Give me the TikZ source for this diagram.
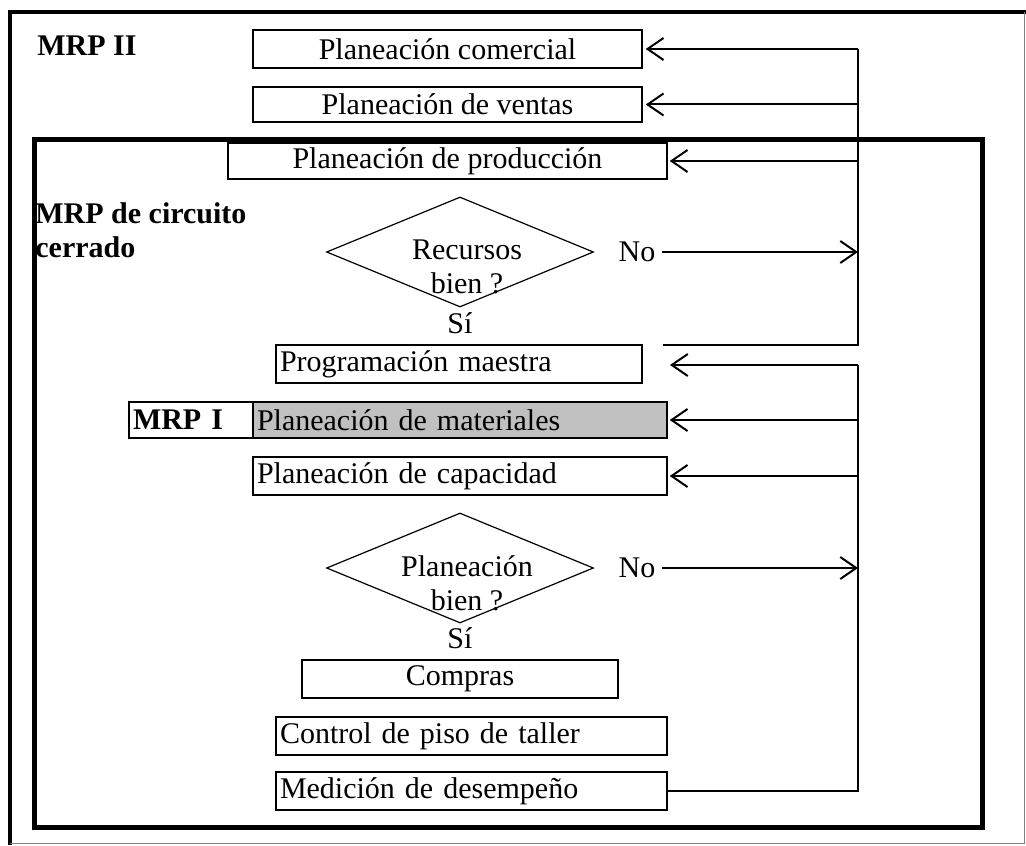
\documentclass[tikz,border=0pt]{standalone}
\usepackage{fontspec}
\setmainfont{Liberation Serif}
\usetikzlibrary{arrows.meta,shapes.geometric}
\definecolor{matgray}{HTML}{C0C0C0}
\definecolor{edgegray}{HTML}{808080}
\begin{document}
\begin{tikzpicture}[x=0.5pt,y=-0.5pt,
  every node/.style={font=\fontsize{15pt}{17pt}\selectfont},
  box/.style={draw,line width=0.75pt,inner sep=0pt,minimum height=19pt},
  lbox/.style={box,align=left,inner xsep=2pt,text width=#1},
  decision/.style={draw,shape=diamond,line width=0.6pt,inner sep=0pt,minimum width=133.5pt,minimum height=55pt},
  conn/.style={line width=1pt},
  arr/.style={conn,-{Straight Barb[length=8pt,width=11pt,line width=1pt]}},
  lbl/.style={font=\bfseries\fontsize{15pt}{17pt}\selectfont,inner sep=0pt}]
\useasboundingbox (0,0) rectangle (1026,845);
% outer frame
\draw[line width=2pt] (10,845) -- (10,12) -- (1026,12);
\draw[edgegray,line width=0.5pt] (10,843) -- (1024,843) -- (1024,12);
% inner frame
\draw[line width=2.5pt] (34,140) rectangle (982,827);
% labels
\node[lbl,anchor=west] (mrp2) at (37,46) {MRP II};
\node[lbl,anchor=west,align=left] (mrpcc) at (35,230) {MRP de circuito\\[0pt]cerrado};
% boxes
\node[box,minimum width=194.5pt] (com) at (447.5,49) {Planeación comercial};
\node[box,minimum width=194.5pt,minimum height=17.5pt] (ven) at (447.5,104.5) {Planeación de ventas};
\node[box,minimum width=219.5pt,minimum height=18pt] (prod) at (447.5,161) {Planeación de producción};
\node[decision] (d1) at (460,252) {};
\node[align=center,inner sep=0pt] (d1t) at (467,267) {Recursos\\bien ?};
\node[inner sep=0pt] (si1) at (460,323) {Sí};
\node (no1) at (637,252) {No};
\node[lbox=179pt] (mae) at (459,364) {Programación maestra};
\node[lbox=58pt,minimum height=18pt,font=\bfseries\fontsize{15pt}{17pt}\selectfont] (mrp1) at (191,420) {MRP I};
\node[lbox=203pt,minimum height=18pt,fill=matgray] (mat) at (460,420) {Planeación de materiales};
\node[lbox=203pt] (cap) at (460,476) {Planeación de capacidad};
\node[decision] (d2) at (460,568) {};
\node[align=center,inner sep=0pt] (d2t) at (467,583) {Planeación\\bien ?};
\node[inner sep=0pt] (si2) at (460,638) {Sí};
\node (no2) at (637,568) {No};
\node[box,minimum width=158pt] (comp) at (460,679) {Compras};
\node[lbox=191.5pt] (tal) at (471.5,736) {Control de piso de taller};
\node[lbox=191.5pt] (des) at (471.5,791) {Medición de desempeño};
% feedback coordinates
\coordinate (ta) at (858,49);
\coordinate (tb) at (858,345);
\coordinate (te) at (663,345);
\coordinate (ba) at (858,365);
\coordinate (be) at (670,365);
% upper loop
\draw[conn] (te) -- (tb) -- (ta);
\draw[arr,shorten >=1.5pt] (ta) -- (com.east);
\draw[arr,shorten >=1.5pt] (ta |- ven.east) -- (ven.east);
\draw[arr,shorten >=1pt] (ta |- prod.east) -- (prod.east);
\draw[arr] (no1.east) -- (no1.east -| ta);
% lower loop
\draw[conn] (des.east) -- (des.east -| ba) -- (ba);
\draw[arr] (ba) -- (be);
\draw[arr,shorten >=1pt] (ba |- mat.east) -- (mat.east);
\draw[arr,shorten >=1pt] (ba |- cap.east) -- (cap.east);
\draw[arr] (no2.east) -- (no2.east -| ba);
\end{tikzpicture}
\end{document}
